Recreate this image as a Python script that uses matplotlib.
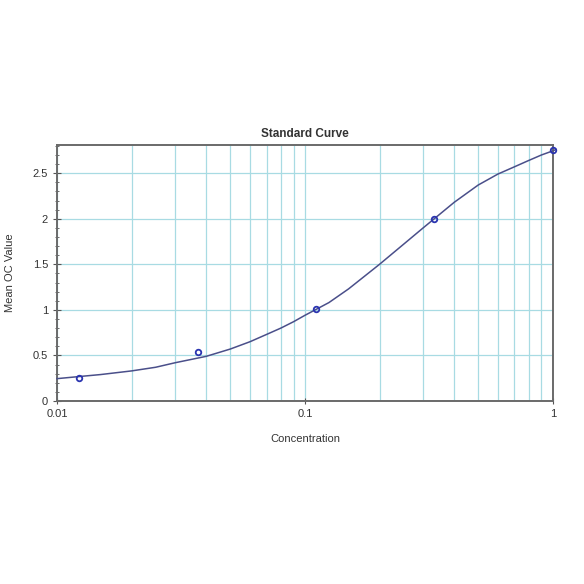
import numpy as np
import matplotlib.pyplot as plt
from matplotlib.ticker import FixedLocator, FixedFormatter, MultipleLocator, LogLocator, NullFormatter

plt.rcParams['font.family'] = ['Liberation Sans', 'DejaVu Sans']

# standards (measured points)
conc = [0.0123, 0.037, 0.111, 0.333, 1.0]
od = [0.25, 0.54, 1.01, 2.0, 2.76]

# fitted curve
curve_x = [0.01, 0.0125, 0.015, 0.02, 0.025, 0.03, 0.04, 0.05, 0.06, 0.07, 0.08, 0.09,
           0.1, 0.125, 0.15, 0.2, 0.25, 0.3, 0.35, 0.4, 0.5, 0.6, 0.7, 0.8, 0.9, 1.0, 1.03]
curve_y = [0.245, 0.27, 0.29, 0.33, 0.37, 0.42, 0.49, 0.57, 0.65, 0.73, 0.80, 0.87,
           0.94, 1.08, 1.23, 1.50, 1.72, 1.90, 2.05, 2.18, 2.37, 2.49, 2.57, 2.64, 2.70, 2.745, 2.76]

fig = plt.figure(figsize=(5.84, 5.84), dpi=100)
ax = fig.add_axes([0.0976, 0.3134, 0.849, 0.4384])

ax.plot(curve_x, curve_y, color='#4a4f8a', lw=1.1, zorder=3, clip_on=False)
ax.plot(conc, od, 'o', mfc='none', mec='#2a34b0', mew=1.3, ms=4, zorder=4, clip_on=False)

ax.set_xscale('log')
ax.set_xlim(0.01, 1)
ax.set_ylim(0, 2.81)

ax.xaxis.set_major_locator(FixedLocator([0.01, 0.1, 1]))
ax.xaxis.set_major_formatter(FixedFormatter(['0.01', '0.1', '1']))
ax.xaxis.set_minor_locator(LogLocator(base=10, subs=np.arange(2, 10)))
ax.xaxis.set_minor_formatter(NullFormatter())
ax.yaxis.set_major_locator(MultipleLocator(0.5))
ax.yaxis.set_major_formatter(plt.FuncFormatter(lambda v, p: f'{v:g}'))
ax.yaxis.set_minor_locator(MultipleLocator(0.1))

ax.grid(which='both', axis='x', color='#a8dbe3', lw=0.9)
ax.grid(which='major', axis='y', color='#a8dbe3', lw=0.9)
ax.set_axisbelow(True)

for s in ax.spines.values():
    s.set_color('#6a6a6a')
    s.set_linewidth(1.4)

ax.tick_params(which='major', direction='inout', length=6, width=0.8, colors='#555555',
               labelsize=8, labelcolor='#333333')
ax.tick_params(which='minor', direction='inout', length=3, width=0.6, colors='#555555')
ax.tick_params(axis='x', which='minor', length=0)
ax.tick_params(axis='x', which='major', length=4)

ax.set_title('Standard Curve', fontsize=8.5, fontweight='bold', color='#333333', pad=6)
ax.set_xlabel('Concentration', fontsize=8, color='#333333', labelpad=11)
ax.set_ylabel('Mean OC Value', fontsize=8, color='#333333', labelpad=13)

fig.savefig('out.png', dpi=100)
